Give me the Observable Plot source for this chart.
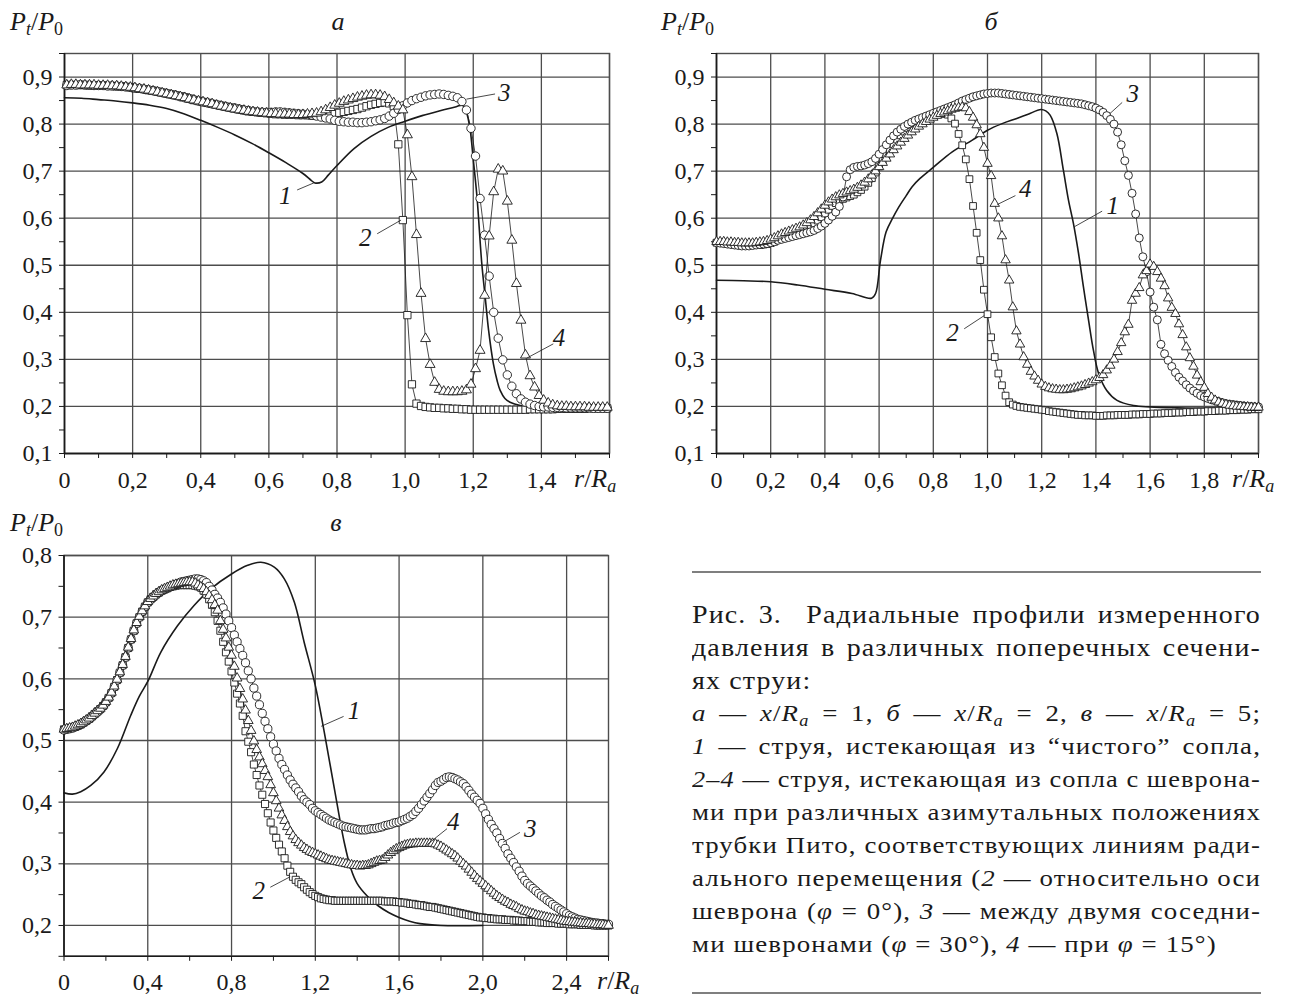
<!DOCTYPE html>
<html><head><meta charset="utf-8">
<script src="https://cdn.jsdelivr.net/npm/d3@7"></script>
<script src="https://cdn.jsdelivr.net/npm/@observablehq/plot@0.6"></script>
<style>
body{margin:0;background:#fff;}
#root{position:relative;width:1297px;height:997px;overflow:hidden;font-family:"Liberation Serif",serif;color:#1a1a1a;background:#fff;}
.pl{position:absolute;}
.cap{position:absolute;left:692px;white-space:nowrap;letter-spacing:1px;transform-origin:0 0;}
.cap sub{font-size:0.68em;vertical-align:-0.28em;line-height:0;}
</style></head>
<body><div id="root"></div>
<script>
// ---------- panel a (x/Ra = 1): sample positions (k+0.5)/75 ----------
const a2 = [ // squares, curve 2
.883,.883,.883,.883,.883,.882,.882,.882,.882,.881,.881,.880,.880,.879,.878,
.876,.875,.874,.872,.871,.869,.867,.865,.863,.861,.859,.857,.854,.851,.849,
.847,.845,.843,.841,.839,.837,.835,.833,.831,.829,.827,.826,.825,.824,.823,
.822,.821,.821,.820,.820,.820,.819,.819,.819,.818,.818,.819,.820,.821,.822,
.824,.826,.828,.830,.832,.835,.838,.841,.843,.845,.846,.844,.838,.757,.596,
.394,.247,.206,.201,.199,.198,.197,.197,.196,.196,.195,.195,.194,.194,.193,
.193,.193,.193,.193,.193,.193,.193,.193,.193,.193,.193,.193,.194,.194,.194,
.194,.194,.194,.195,.195,.195,.195,.195,.195,.195,.196,.196,.196,.196,.196];
const a3 = [ // circles, curve 3
.882,.883,.883,.884,.883,.883,.882,.882,.882,.881,.881,.881,.880,.879,.878,
.877,.876,.874,.873,.871,.869,.867,.865,.863,.861,.858,.856,.854,.852,.849,
.847,.845,.843,.841,.839,.837,.835,.834,.832,.830,.829,.827,.826,.825,.825,
.825,.826,.826,.825,.824,.823,.822,.821,.820,.819,.817,.815,.813,.811,.808,
.806,.805,.804,.804,.803,.803,.804,.805,.807,.809,.812,.817,.823,.831,.839,
.845,.850,.854,.857,.860,.862,.863,.864,.863,.861,.859,.856,.848,.830,.791,
.732,.642,.564,.477,.400,.345,.299,.267,.243,.227,.216,.209,.205,.202,.200,
.199,.199,.198,.198,.198,.197,.197,.197,.197,.197,.197,.196,.196,.196,.196];
const a4 = [ // triangles, curve 4
.883,.884,.884,.883,.883,.883,.883,.882,.882,.882,.881,.881,.880,.879,.878,
.877,.875,.874,.872,.870,.868,.866,.864,.862,.860,.858,.856,.853,.851,.849,
.847,.845,.843,.840,.838,.836,.834,.832,.830,.829,.827,.826,.825,.824,.823,
.822,.822,.821,.821,.821,.820,.820,.820,.821,.822,.823,.826,.830,.835,.840,
.844,.848,.851,.854,.857,.859,.861,.862,.862,.861,.858,.852,.845,.838,.830,
.777,.688,.565,.440,.344,.289,.251,.236,.232,.231,.231,.231,.232,.235,.247,
.280,.319,.436,.562,.656,.704,.700,.636,.553,.461,.383,.309,.265,.241,.223,
.213,.207,.203,.201,.200,.200,.199,.199,.199,.199,.198,.198,.198,.198,.198];
const a1x = [0,.05,.1,.15,.2,.25,.3,.35,.4,.45,.5,.55,.6,.65,.7,.725,.735,.755,.775,.8,.85,.9,.95,1.0,1.05,1.1,1.15,1.168,1.18,1.191,1.2,1.211,1.225,1.235,1.245,1.259,1.27,1.279,1.293,1.308,1.338,1.4,1.5,1.6];
const a1y = [.856,.855,.852,.849,.845,.840,.833,.822,.808,.793,.777,.759,.739,.718,.695,.680,.675,.677,.692,.712,.748,.774,.793,.806,.818,.828,.837,.840,.825,.787,.725,.645,.504,.433,.362,.291,.255,.234,.217,.209,.202,.198,.196,.196];

// ---------- panel б (x/Ra = 2): sample positions k/75 ----------
const b2 = [
.548,.548,.548,.547,.547,.546,.545,.544,.544,.543,.543,.543,.543,.544,.545,
.547,.550,.554,.558,.562,.565,.568,.571,.574,.577,.580,.584,.589,.595,.602,
.610,.618,.626,.632,.637,.641,.644,.647,.650,.655,.660,.667,.675,.685,.697,
.710,.722,.734,.746,.757,.767,.776,.784,.791,.797,.802,.806,.810,.814,.817,
.819,.821,.822,.822,.820,.812,.801,.779,.755,.725,.683,.626,.569,.511,.448,
.396,.347,.305,.270,.245,.223,.209,.204,.201,.199,.198,.197,.196,.195,.194,
.193,.192,.190,.189,.188,.187,.186,.185,.184,.183,.182,.182,.181,.181,.181,
.180,.180,.180,.181,.181,.181,.182,.182,.182,.182,.183,.183,.183,.184,.184,
.184,.185,.185,.185,.186,.186,.186,.187,.187,.187,.188,.188,.188,.189,.189,
.189,.190,.190,.190,.191,.191,.191,.192,.192,.192,.193,.193,.193,.194,.194,
.194];
const b3 = [
.548,.547,.546,.545,.544,.543,.542,.541,.541,.541,.542,.543,.544,.545,.546,
.548,.550,.553,.555,.557,.559,.561,.563,.565,.567,.569,.571,.574,.578,.583,
.589,.596,.604,.613,.625,.645,.688,.703,.708,.710,.711,.713,.716,.720,.727,
.736,.746,.756,.766,.775,.783,.789,.795,.800,.804,.808,.811,.814,.817,.820,
.823,.826,.829,.832,.835,.838,.841,.845,.849,.852,.855,.858,.860,.862,.864,
.865,.866,.866,.866,.865,.864,.863,.862,.861,.860,.859,.858,.857,.856,.855,
.854,.853,.852,.851,.850,.849,.848,.847,.846,.845,.844,.843,.841,.839,.837,
.834,.830,.825,.818,.810,.800,.783,.756,.722,.691,.653,.609,.558,.518,.486,
.443,.411,.384,.332,.312,.298,.285,.272,.262,.254,.246,.239,.233,.228,.223,
.220,.217,.214,.212,.210,.208,.206,.205,.204,.203,.202,.201,.200,.200,.199,
.199];
const b4 = [
.550,.550,.550,.549,.549,.548,.548,.547,.547,.547,.547,.548,.549,.550,.552,
.555,.558,.562,.566,.569,.572,.575,.578,.581,.585,.590,.596,.603,.611,.619,
.627,.634,.640,.645,.649,.652,.655,.658,.661,.665,.670,.676,.683,.691,.700,
.709,.718,.727,.736,.745,.753,.761,.769,.776,.783,.789,.795,.800,.805,.810,
.814,.818,.822,.825,.828,.831,.833,.835,.836,.834,.826,.814,.798,.779,.750,
.716,.690,.631,.600,.562,.511,.468,.411,.360,.332,.305,.289,.274,.264,.255,
.247,.242,.239,.237,.236,.235,.235,.236,.237,.239,.241,.243,.246,.249,.252,
.256,.261,.267,.277,.287,.300,.316,.335,.358,.374,.425,.440,.452,.479,.488,
.502,.497,.486,.472,.456,.430,.410,.397,.375,.352,.326,.303,.285,.266,.252,
.240,.227,.219,.213,.209,.206,.204,.202,.201,.200,.200,.199,.199,.198,.198,
.198];
const b1x = [0,.1,.2,.3,.4,.5,.572,.587,.605,.626,.65,.673,.7,.722,.75,.8,.87,.944,1.0,1.054,1.108,1.15,1.197,1.215,1.231,1.256,1.28,1.299,1.317,1.336,1.354,1.373,1.391,1.41,1.44,1.478,1.539,1.6,1.7,1.8,2.0];
const b1y = [.468,.467,.465,.458,.449,.440,.430,.440,.510,.571,.600,.624,.648,.667,.684,.708,.741,.766,.787,.801,.812,.821,.831,.828,.819,.780,.702,.638,.589,.525,.454,.383,.319,.270,.234,.213,.202,.199,.197,.196,.195];

// ---------- panel в (x/Ra = 5): sample positions k/75 ----------
const c2 = [
.518,.519,.520,.521,.522,.524,.526,.529,.532,.535,.539,.543,.547,.551,.556,
.562,.569,.577,.587,.598,.610,.622,.635,.650,.664,.678,.690,.700,.709,.717,
.724,.729,.733,.737,.740,.743,.745,.747,.749,.750,.751,.752,.752,.752,.752,
.752,.752,.751,.750,.748,.743,.737,.729,.720,.708,.694,.678,.660,.643,.628,
.612,.594,.576,.560,.540,.515,.498,.481,.461,.444,.427,.412,.397,.382,.367,
.354,.342,.331,.320,.309,.297,.287,.279,.274,.270,.267,.262,.258,.254,.251,
.248,.246,.244,.243,.242,.241,.241,.240,.240,.240,.240,.240,.240,.240,.240,
.240,.240,.240,.240,.240,.240,.240,.240,.240,.240,.239,.239,.239,.239,.238,
.238,.237,.237,.236,.235,.235,.234,.233,.233,.232,.231,.230,.230,.229,.228,
.227,.226,.225,.224,.223,.222,.221,.220,.219,.218,.217,.216,.215,.214,.213,
.213,.212,.212,.211,.211,.210,.210,.210,.209,.209,.209,.208,.208,.208,.207,
.207,.207,.206,.206,.206,.205,.205,.205,.204,.204,.204,.204,.203,.203,.203,
.203,.202,.202,.202,.202,.201,.201,.201,.201,.201,.200,.200,.200,.200,.200,
.200];
const c3 = [
.517,.518,.519,.520,.522,.524,.526,.529,.532,.535,.539,.543,.547,.551,.556,
.562,.569,.577,.587,.598,.610,.622,.635,.650,.664,.678,.690,.700,.709,.717,
.724,.729,.733,.737,.740,.743,.745,.747,.749,.751,.753,.755,.757,.758,.759,
.760,.761,.762,.762,.761,.759,.756,.750,.744,.737,.731,.724,.715,.705,.694,
.683,.671,.660,.649,.638,.626,.613,.600,.585,.572,.558,.544,.531,.519,.506,
.494,.483,.471,.461,.453,.444,.436,.429,.423,.417,.410,.404,.400,.396,.390,
.386,.383,.380,.377,.374,.371,.369,.367,.365,.363,.361,.360,.359,.358,.357,
.356,.355,.355,.355,.356,.357,.357,.358,.359,.360,.362,.363,.364,.366,.367,
.368,.370,.372,.374,.377,.380,.385,.390,.396,.402,.408,.414,.420,.427,.432,
.434,.437,.440,.441,.440,.438,.436,.433,.430,.425,.419,.413,.408,.403,.398,
.390,.381,.372,.364,.357,.350,.341,.333,.325,.316,.309,.302,.295,.288,.280,
.273,.268,.264,.260,.256,.252,.248,.245,.241,.238,.234,.231,.228,.225,.222,
.219,.216,.214,.212,.210,.209,.208,.207,.206,.205,.204,.204,.203,.203,.202,
.202];
const c4 = [
.518,.519,.520,.521,.523,.525,.527,.530,.533,.536,.540,.544,.548,.552,.557,
.563,.570,.578,.588,.599,.611,.623,.636,.651,.665,.679,.691,.701,.710,.718,
.725,.730,.734,.738,.741,.744,.746,.748,.750,.752,.753,.754,.755,.756,.757,
.757,.757,.755,.752,.749,.746,.741,.735,.728,.720,.711,.694,.680,.666,.651,
.638,.620,.601,.584,.567,.549,.532,.516,.499,.485,.473,.462,.451,.441,.428,
.415,.402,.390,.379,.370,.360,.352,.345,.339,.334,.330,.326,.323,.320,.318,
.316,.314,.312,.310,.308,.306,.305,.304,.303,.302,.301,.300,.299,.298,.297,
.297,.296,.297,.297,.298,.300,.302,.304,.305,.306,.310,.314,.318,.321,.324,
.326,.328,.330,.331,.332,.332,.333,.333,.333,.333,.333,.333,.333,.332,.330,
.328,.325,.322,.319,.316,.313,.309,.304,.300,.296,.291,.286,.281,.276,.272,
.268,.264,.260,.256,.252,.248,.245,.242,.239,.237,.234,.232,.230,.227,.225,
.223,.222,.220,.219,.217,.216,.215,.214,.213,.212,.211,.210,.209,.208,.207,
.206,.206,.205,.205,.204,.204,.203,.203,.203,.202,.202,.201,.201,.201,.200,
.200];
const c1x = [0,.04,.08,.128,.191,.255,.319,.36,.402,.462,.542,.621,.701,.8,.877,.94,1.004,1.052,1.1,1.147,1.2,1.243,1.291,1.338,1.37,1.4,1.45,1.5,1.55,1.6,1.65,1.7,1.8,2.0];
const c1y = [.415,.413,.417,.427,.449,.487,.541,.572,.597,.643,.686,.719,.746,.770,.784,.789,.781,.762,.724,.659,.589,.513,.422,.335,.292,.268,.247,.232,.221,.213,.207,.203,.200,.200];

// ---------- axes / ticks ----------
const abXLabels = [0,0.2,0.4,0.6,0.8,1.0,1.2,1.4];
const aXGrid = [0,0.2,0.4,0.6,0.8,1.0,1.2,1.4,1.6];
const aXMinor = [0,0.1,0.2,0.3,0.4,0.5,0.6,0.7,0.8,0.9,1.0,1.1,1.2,1.3,1.4,1.5,1.6];
const bXLabels = [0,0.2,0.4,0.6,0.8,1.0,1.2,1.4,1.6,1.8];
const bXGrid = [0,0.2,0.4,0.6,0.8,1.0,1.2,1.4,1.6,1.8,2.0];
const bXMinor = [0,0.1,0.2,0.3,0.4,0.5,0.6,0.7,0.8,0.9,1.0,1.1,1.2,1.3,1.4,1.5,1.6,1.7,1.8,1.9,2.0];
const abYLabels = [0.1,0.2,0.3,0.4,0.5,0.6,0.7,0.8,0.9];
const abYMinor = [0.1,0.15,0.2,0.25,0.3,0.35,0.4,0.45,0.5,0.55,0.6,0.65,0.7,0.75,0.8,0.85,0.9,0.95];
const cXLabels = [0,0.4,0.8,1.2,1.6,2.0,2.4];
const cXGrid = [0,0.4,0.8,1.2,1.6,2.0,2.4];
const cXMinor = [0,0.2,0.4,0.6,0.8,1.0,1.2,1.4,1.6,1.8,2.0,2.2,2.4,2.6];
const cYLabels = [0.2,0.3,0.4,0.5,0.6,0.7,0.8];
const cYMinor = [0.15,0.2,0.25,0.3,0.35,0.4,0.45,0.5,0.55,0.6,0.65,0.7,0.75,0.8];

// curve number labels with leader lines (data coordinates)
const aNotes = [
 {t:"1", tx:0.648, ty:0.648, x1:0.683, y1:0.660, x2:0.732, y2:0.675},
 {t:"2", tx:0.883, ty:0.557, x1:0.918, y1:0.567, x2:0.988, y2:0.596},
 {t:"3", tx:1.291, ty:0.866, x1:1.264, y1:0.864, x2:1.180, y2:0.853},
 {t:"4", tx:1.452, ty:0.346, x1:1.435, y1:0.333, x2:1.358, y2:0.303}];
const bNotes = [
 {t:"1", tx:1.462, ty:0.627, x1:1.423, y1:0.615, x2:1.321, y2:0.582},
 {t:"2", tx:0.871, ty:0.356, x1:0.914, y1:0.365, x2:0.988, y2:0.393},
 {t:"3", tx:1.536, ty:0.864, x1:1.497, y1:0.846, x2:1.451, y2:0.822},
 {t:"4", tx:1.139, ty:0.663, x1:1.103, y1:0.648, x2:1.036, y2:0.629}];
const cNotes = [
 {t:"1", tx:1.385, ty:0.548, x1:1.335, y1:0.539, x2:1.228, y2:0.523},
 {t:"2", tx:0.930, ty:0.256, x1:0.985, y1:0.262, x2:1.080, y2:0.279},
 {t:"3", tx:2.226, ty:0.357, x1:2.177, y1:0.351, x2:2.097, y2:0.335},
 {t:"4", tx:1.859, ty:0.368, x1:1.829, y1:0.357, x2:1.730, y2:0.330}];

const fmt = d => d === 0 ? "0" : d.toFixed(1).replace(".", ",");
const pts = (xs, ys) => ys.map((y, i) => ({x: xs[i], y}));
const grid = (ys, off) => ys.map((y, k) => ({x: (k + off) / 75, y}));

function panel(cfg) {
  const ink = "#1a1a1a", gridC = "#4d4d4d";
  const marks = [
    Plot.gridX({ticks: cfg.xGrid, stroke: gridC, strokeOpacity: 1, strokeWidth: 1.3}),
    Plot.gridY({ticks: cfg.yLabels, stroke: gridC, strokeOpacity: 1, strokeWidth: 1.3}),
    Plot.frame({stroke: gridC, strokeWidth: 1.4}),
    Plot.ruleX([cfg.xDomain[0]], {stroke: ink, strokeWidth: 1.5}),
    Plot.ruleY([cfg.yDomain[0]], {stroke: ink, strokeWidth: 1.5}),
    Plot.axisX({ticks: cfg.xMinor, anchor: "bottom", fill: "none", stroke: ink, tickSize: 5, label: null}),
    Plot.axisY({ticks: cfg.yMinor, anchor: "left", fill: "none", stroke: ink, tickSize: 5, label: null}),
    Plot.axisX({ticks: cfg.xLabels, anchor: "bottom", tickSize: 0, tickPadding: 17, tickFormat: fmt, label: null, fill: ink}),
    Plot.axisY({ticks: cfg.yLabels, anchor: "left", tickSize: 0, tickPadding: 12, tickFormat: fmt, label: null, fill: ink}),
    Plot.line(cfg.line1, {x: "x", y: "y", stroke: ink, strokeWidth: 1.6, curve: "catmull-rom"})
  ];
  for (const s of cfg.series) {
    marks.push(Plot.line(s.data, {x: "x", y: "y", stroke: ink, strokeWidth: 0.8}));
    marks.push(Plot.dot(s.data, {x: "x", y: "y", symbol: s.symbol, r: s.r, fill: "white", stroke: ink, strokeWidth: 0.9}));
  }
  marks.push(Plot.link(cfg.notes, {x1: "x1", y1: "y1", x2: "x2", y2: "y2", stroke: ink, strokeWidth: 0.8}));
  marks.push(Plot.text(cfg.notes, {x: "tx", y: "ty", text: "t", fontStyle: "italic", fontSize: 25, fill: ink, textAnchor: "middle", lineAnchor: "middle"}));
  const svg = Plot.plot({
    width: cfg.width, height: cfg.height,
    marginLeft: cfg.ml, marginRight: cfg.mr, marginTop: cfg.mt, marginBottom: cfg.mb,
    x: {domain: cfg.xDomain}, y: {domain: cfg.yDomain},
    style: {fontFamily: "Liberation Serif, serif", fontSize: "24px", color: ink, background: "transparent", overflow: "visible"},
    marks
  });
  svg.classList.add("pl");
  svg.style.left = cfg.left + "px";
  svg.style.top = cfg.top + "px";
  return svg;
}

const root = document.getElementById("root");
root.appendChild(panel({
  left: 0, top: 0, width: 640, height: 500, ml: 64, mr: 31, mt: 53, mb: 47,
  xDomain: [0, 1.6], yDomain: [0.1, 0.95],
  xGrid: aXGrid, xMinor: aXMinor, xLabels: abXLabels, yLabels: abYLabels, yMinor: abYMinor,
  line1: pts(a1x, a1y),
  series: [
    {data: grid(a2, 0.5), symbol: "square", r: 4.1},
    {data: grid(a3, 0.5), symbol: "circle", r: 4.2},
    {data: grid(a4, 0.5), symbol: "triangle", r: 3.7}],
  notes: aNotes
}));
root.appendChild(panel({
  left: 650, top: 0, width: 640, height: 500, ml: 66, mr: 32, mt: 53, mb: 47,
  xDomain: [0, 2.0], yDomain: [0.1, 0.95],
  xGrid: bXGrid, xMinor: bXMinor, xLabels: bXLabels, yLabels: abYLabels, yMinor: abYMinor,
  line1: pts(b1x, b1y),
  series: [
    {data: grid(b2, 0), symbol: "square", r: 3.8},
    {data: grid(b3, 0), symbol: "circle", r: 4.0},
    {data: grid(b4, 0), symbol: "triangle", r: 3.5}],
  notes: bNotes
}));
root.appendChild(panel({
  left: 0, top: 500, width: 650, height: 497, ml: 63.5, mr: 42, mt: 55, mb: 41.2,
  xDomain: [0, 2.6], yDomain: [0.15, 0.8],
  xGrid: cXGrid, xMinor: cXMinor, xLabels: cXLabels, yLabels: cYLabels, yMinor: cYMinor,
  line1: pts(c1x, c1y),
  series: [
    {data: grid(c2, 0), symbol: "square", r: 4.0},
    {data: grid(c3, 0), symbol: "circle", r: 4.1},
    {data: grid(c4, 0), symbol: "triangle", r: 3.6}],
  notes: cNotes
}));

// ---------- overlay texts ----------
const ov = d3.select(root).append("svg").attr("width", 1297).attr("height", 997)
  .style("position", "absolute").style("left", 0).style("top", 0)
  .style("font-family", "Liberation Serif, serif").attr("fill", "#1a1a1a");
function ratio(x, y) {
  const t = ov.append("text").attr("x", x).attr("y", y).attr("font-size", 26);
  t.append("tspan").attr("font-style", "italic").text("P");
  t.append("tspan").attr("font-style", "italic").attr("font-size", 18).attr("dy", 5).text("t");
  t.append("tspan").attr("dy", -5).text("/");
  t.append("tspan").attr("font-style", "italic").text("P");
  t.append("tspan").attr("font-size", 18).attr("dy", 5).text("0");
}
function rra(x, y) {
  const t = ov.append("text").attr("x", x).attr("y", y).attr("font-size", 26);
  t.append("tspan").attr("font-style", "italic").text("r");
  t.append("tspan").text("/");
  t.append("tspan").attr("font-style", "italic").text("R");
  t.append("tspan").attr("font-style", "italic").attr("font-size", 18).attr("dy", 5).text("a");
}
function title(x, y, s) {
  ov.append("text").attr("x", x).attr("y", y).attr("font-size", 26).attr("font-style", "italic").attr("text-anchor", "middle").text(s);
}
ratio(10, 30); ratio(661, 30); ratio(10, 531);
rra(574, 487); rra(1232, 487); rra(597, 989);
title(338, 30, "а"); title(991, 30, "б"); title(336, 531, "в");
ov.append("line").attr("x1", 692).attr("x2", 1261).attr("y1", 572).attr("y2", 572).attr("stroke", "#555").attr("stroke-width", 1.5);
ov.append("line").attr("x1", 692).attr("x2", 1261).attr("y1", 993).attr("y2", 993).attr("stroke", "#555").attr("stroke-width", 1.5);

// ---------- caption (each line justified to the column width) ----------
const capLines = [
 {h: "Рис. 3.&nbsp; Радиальные профили измеренного", s: 25, c: 617, j: true},
 {h: "давления в различных поперечных сечени-", s: 25, c: 650, j: true},
 {h: "ях струи:", s: 25, c: 683, j: false},
 {h: "<i>а</i> — <i>x</i>/<i>R</i><sub><i>a</i></sub> = 1, <i>б</i> — <i>x</i>/<i>R</i><sub><i>a</i></sub> = 2, <i>в</i> — <i>x</i>/<i>R</i><sub><i>a</i></sub> = 5;", s: 24, c: 716, j: true},
 {h: "<i>1</i> — струя, истекающая из “чистого” сопла,", s: 24, c: 749, j: true},
 {h: "<i>2–4</i> — струя, истекающая из сопла с шеврона-", s: 24, c: 782, j: true},
 {h: "ми при различных азимутальных положениях", s: 24, c: 815, j: true},
 {h: "трубки Пито, соответствующих линиям ради-", s: 24, c: 848, j: true},
 {h: "ального перемещения (<i>2</i> — относительно оси", s: 24, c: 881, j: true},
 {h: "шеврона (<i>φ</i> = 0°), <i>3</i> — между двумя соседни-", s: 24, c: 914, j: true},
 {h: "ми шевронами (<i>φ</i> = 30°), <i>4</i> — при <i>φ</i> = 15°)", s: 24, c: 947, j: false}];
const SX = 1.12, COLW = 569;
for (const L of capLines) {
  const d = document.createElement("div");
  d.className = "cap";
  d.style.fontSize = L.s + "px";
  d.style.lineHeight = L.s + "px";
  d.style.top = (L.c - 0.61 * L.s) + "px";
  d.innerHTML = L.h;
  root.appendChild(d);
  const w = d.getBoundingClientRect().width;
  let sx = SX;
  if (L.j) {
    const target = COLW / SX;
    const n = (d.textContent.match(/[ \u00a0]/g) || []).length;
    if (w < target && n > 0) d.style.wordSpacing = ((target - w) / n) + "px";
    else sx = COLW / w;
  }
  d.style.transform = "scaleX(" + sx + ")";
}
</script>
</body></html>
